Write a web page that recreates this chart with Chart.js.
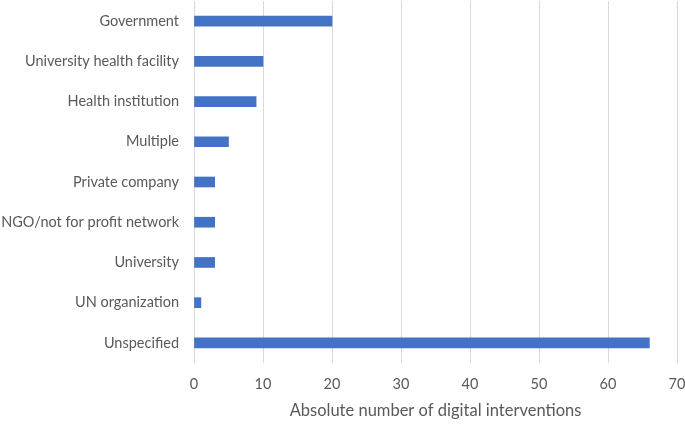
<!DOCTYPE html>
<html>
<head>
<meta charset="utf-8">
<script src="https://cdn.jsdelivr.net/npm/chart.js@4.4.1/dist/chart.umd.min.js"></script>
<style>
  html, body { margin: 0; padding: 0; background: #fff; }
  #wrap { width: 685px; height: 425px; position: relative; }
</style>
</head>
<body>
<div id="wrap"><canvas id="chart"></canvas></div>
<script>
// ── Data ──
const categories = [
  "Government",
  "University health facility",
  "Health institution",
  "Multiple",
  "Private company",
  "NGO/not for profit network",
  "University",
  "UN organization",
  "Unspecified"
];
const counts = [20, 10, 9, 5, 3, 3, 3, 1, 66];
const xMin = 0, xMax = 70, xStep = 10;
const xTitle = "Absolute number of digital interventions";

const BLUE = "#4472C4", GRID = "#d9d9d9", TXT = "#595959";
const FONT = "Lato, 'Open Sans', sans-serif";

new Chart(document.getElementById("chart"), {
  type: "bar",
  data: {
    labels: categories,
    datasets: [{
      data: counts,
      backgroundColor: BLUE,
      borderWidth: 0,
      barThickness: 10
    }]
  },
  options: {
    indexAxis: "y",
    responsive: true,
    maintainAspectRatio: false,
    animation: false,
    layout: { padding: { top: 1, right: 8, left: 0, bottom: 0 } },
    plugins: { legend: { display: false }, tooltip: { enabled: false } },
    scales: {
      x: {
        min: xMin, max: xMax,
        ticks: { stepSize: xStep, color: TXT, font: { family: FONT, size: 14.5 }, padding: 13 },
        grid: { color: GRID, lineWidth: 1, drawTicks: false },
        border: { display: false },
        title: { display: true, text: xTitle, color: TXT, font: { family: FONT, size: 16.5 }, padding: { top: 8 } },
        afterFit: (s) => { s.height = 62; s.paddingLeft = 0; s.paddingRight = 0; }
      },
      y: {
        ticks: { color: TXT, font: { family: FONT, size: 14.5 }, padding: 15 },
        grid: { display: false, drawTicks: false },
        border: { display: false },
        afterFit: (s) => { s.width = 194; s.paddingTop = 0; s.paddingBottom = 0; }
      }
    }
  }
});
</script>
</body>
</html>
